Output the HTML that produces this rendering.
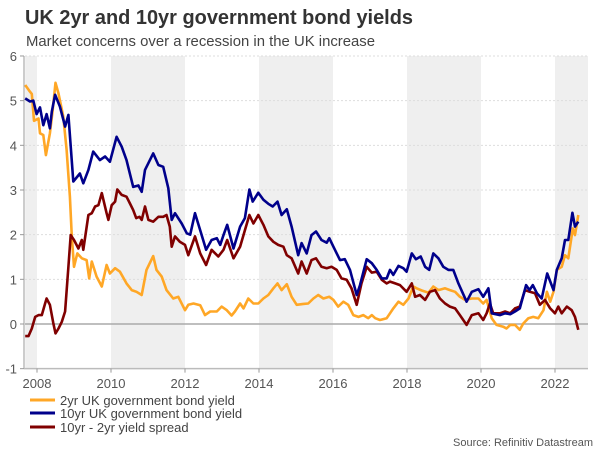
<!DOCTYPE html>
<html><head><meta charset="utf-8"><style>
html,body{margin:0;padding:0;background:#fff;}
svg{display:block;font-family:"Liberation Sans",Arial,sans-serif;}
</style></head><body>
<svg id="chart" width="600" height="450" viewBox="0 0 600 450">
<text x="25" y="24" font-size="20" font-weight="bold" fill="#333" textLength="388" lengthAdjust="spacingAndGlyphs">UK 2yr and 10yr government bond yields</text>
<text x="26" y="46" font-size="15" fill="#444" textLength="349" lengthAdjust="spacingAndGlyphs">Market concerns over a recession in the UK increase</text>
<g id="bands"></g><g id="grid"></g><g id="axes"></g><g id="series"></g>
<g>
<g><line x1="30" y1="400" x2="55" y2="400" stroke="#FFA726" stroke-width="3"/><text x="60" y="405" font-size="13" fill="#444">2yr UK government bond yield</text></g>
<g><line x1="30" y1="413" x2="55" y2="413" stroke="#00008B" stroke-width="3"/><text x="60" y="418" font-size="13" fill="#444">10yr UK government bond yield</text></g>
<g><line x1="30" y1="427" x2="55" y2="427" stroke="#800000" stroke-width="3"/><text x="60" y="432" font-size="13" fill="#444">10yr - 2yr yield spread</text></g>
</g>
<text x="593" y="446" font-size="11" fill="#555" text-anchor="end">Source: Refinitiv Datastream</text>
</svg>
<script>
const yTicks=[-1,0,1,2,3,4,5,6];
const xTickYears=[2008,2010,2012,2014,2016,2018,2020,2022];
const bandStarts=[2007.68,2010,2014,2018,2022];
const bandEnds=[2008,2012,2016,2020,2022.9];
const tenDates=[2007.68,2007.81,2007.90,2007.99,2008.08,2008.17,2008.26,2008.35,2008.40,2008.49,2008.62,2008.76,2008.85,2008.98,2009.16,2009.25,2009.39,2009.52,2009.70,2009.84,2009.97,2010.15,2010.29,2010.42,2010.60,2010.74,2010.83,2010.92,2011.14,2011.28,2011.41,2011.55,2011.64,2011.73,2011.91,2012.05,2012.14,2012.27,2012.41,2012.57,2012.72,2012.86,2012.95,2013.04,2013.14,2013.31,2013.49,2013.62,2013.74,2013.83,2013.98,2014.12,2014.25,2014.37,2014.50,2014.61,2014.75,2014.88,2015.06,2015.15,2015.29,2015.42,2015.54,2015.69,2015.83,2015.90,2016.01,2016.19,2016.32,2016.46,2016.64,2016.73,2016.91,2017.05,2017.18,2017.32,2017.45,2017.54,2017.63,2017.77,2017.90,2017.99,2018.13,2018.24,2018.37,2018.49,2018.60,2018.71,2018.85,2018.98,2019.12,2019.25,2019.39,2019.61,2019.75,2019.93,2020.06,2020.20,2020.29,2020.51,2020.65,2020.79,2020.92,2021.05,2021.22,2021.31,2021.40,2021.51,2021.64,2021.79,2021.96,2022.05,2022.18,2022.27,2022.36,2022.47,2022.54,2022.63];
const tenVals=[5.05,4.98,5.0,4.7,4.85,4.45,4.7,4.38,4.75,5.13,4.87,4.42,4.68,3.19,3.37,3.15,3.45,3.86,3.67,3.75,3.63,4.19,3.97,3.67,3.07,3.10,2.96,3.45,3.82,3.56,3.52,3.04,2.33,2.48,2.25,2.03,2.0,2.48,2.10,1.66,1.88,1.92,1.77,1.99,2.22,1.69,2.18,2.37,3.01,2.74,2.94,2.78,2.69,2.63,2.74,2.44,2.57,2.18,1.54,1.81,1.58,1.99,2.07,1.88,1.82,1.92,1.73,1.43,1.45,1.21,0.65,0.87,1.45,1.36,1.21,1.02,1.02,1.21,1.10,1.30,1.25,1.17,1.58,1.45,1.51,1.28,1.21,1.58,1.47,1.28,1.21,1.21,0.91,0.50,0.72,0.78,0.61,0.80,0.24,0.20,0.24,0.22,0.28,0.35,0.87,0.76,0.87,0.69,0.57,1.13,0.76,1.21,1.47,1.88,1.88,2.49,2.18,2.29];
const twoDates=[2007.68,2007.81,2007.86,2007.92,2008.04,2008.08,2008.17,2008.24,2008.35,2008.42,2008.50,2008.58,2008.71,2008.80,2008.89,2008.94,2009.00,2009.09,2009.21,2009.34,2009.41,2009.48,2009.61,2009.75,2009.88,2009.97,2010.11,2010.24,2010.42,2010.56,2010.69,2010.83,2010.96,2011.14,2011.23,2011.37,2011.50,2011.68,2011.82,2012.00,2012.09,2012.23,2012.41,2012.54,2012.68,2012.86,2012.99,2013.13,2013.26,2013.35,2013.49,2013.58,2013.71,2013.85,2013.98,2014.12,2014.25,2014.39,2014.50,2014.61,2014.75,2014.88,2015.02,2015.20,2015.33,2015.47,2015.60,2015.74,2015.90,2016.01,2016.14,2016.28,2016.41,2016.55,2016.69,2016.82,2016.95,2017.05,2017.14,2017.27,2017.45,2017.54,2017.63,2017.77,2017.90,2018.04,2018.17,2018.26,2018.40,2018.58,2018.71,2018.85,2019.03,2019.16,2019.30,2019.43,2019.57,2019.75,2019.93,2020.06,2020.15,2020.29,2020.42,2020.60,2020.69,2020.79,2020.92,2021.05,2021.14,2021.28,2021.41,2021.55,2021.69,2021.78,2021.87,2021.96,2022.05,2022.18,2022.27,2022.36,2022.48,2022.54,2022.63];
const twoVals=[5.35,5.20,5.15,4.55,4.60,4.27,4.23,3.78,4.27,4.75,5.40,5.16,4.64,3.90,2.85,1.96,1.28,1.58,1.47,1.43,1.02,1.40,1.06,0.84,1.32,1.13,1.25,1.17,0.91,0.76,0.72,0.65,1.21,1.52,1.21,1.06,0.76,0.57,0.61,0.31,0.43,0.46,0.42,0.20,0.28,0.28,0.39,0.31,0.19,0.28,0.46,0.35,0.57,0.46,0.46,0.57,0.65,0.80,0.91,0.76,0.89,0.61,0.43,0.45,0.46,0.57,0.65,0.57,0.61,0.54,0.39,0.50,0.43,0.20,0.16,0.20,0.13,0.20,0.13,0.09,0.13,0.24,0.35,0.50,0.43,0.57,0.84,0.80,0.75,0.70,0.84,0.76,0.80,0.76,0.72,0.61,0.54,0.57,0.57,0.46,0.54,0.13,-0.02,-0.06,-0.10,-0.02,-0.02,-0.13,0.01,0.13,0.16,0.13,0.31,0.72,0.50,0.72,1.21,1.28,1.54,1.47,2.14,1.99,2.44];
const spreadDates=[2007.68,2007.77,2007.86,2007.95,2008.04,2008.13,2008.22,2008.26,2008.35,2008.44,2008.50,2008.58,2008.67,2008.76,2008.85,2008.91,2009.00,2009.12,2009.21,2009.25,2009.39,2009.48,2009.57,2009.66,2009.75,2009.88,2009.93,2010.02,2010.11,2010.17,2010.29,2010.42,2010.51,2010.60,2010.68,2010.77,2010.83,2010.92,2011.01,2011.14,2011.28,2011.41,2011.50,2011.59,2011.64,2011.73,2011.86,2012.00,2012.09,2012.27,2012.41,2012.57,2012.72,2012.90,2013.04,2013.14,2013.31,2013.49,2013.62,2013.74,2013.85,2013.98,2014.12,2014.25,2014.39,2014.52,2014.66,2014.75,2014.88,2015.06,2015.15,2015.29,2015.42,2015.54,2015.69,2015.83,2015.96,2016.10,2016.23,2016.37,2016.50,2016.64,2016.77,2016.91,2017.05,2017.18,2017.32,2017.45,2017.54,2017.68,2017.81,2017.99,2018.13,2018.22,2018.35,2018.49,2018.62,2018.76,2018.89,2019.03,2019.16,2019.30,2019.43,2019.61,2019.75,2019.93,2020.06,2020.15,2020.24,2020.33,2020.51,2020.65,2020.79,2020.92,2021.05,2021.19,2021.32,2021.46,2021.59,2021.73,2021.87,2022.00,2022.09,2022.18,2022.32,2022.45,2022.54,2022.63];
const spreadVals=[-0.27,-0.27,-0.10,0.16,0.20,0.20,0.46,0.57,0.43,0.02,-0.21,-0.10,0.05,0.28,1.28,1.99,1.88,1.69,1.88,1.66,2.44,2.48,2.63,2.66,2.93,2.48,2.33,2.66,2.74,3.01,2.89,2.85,2.70,2.55,2.37,2.40,2.33,2.63,2.33,2.29,2.40,2.40,2.44,2.18,1.73,1.96,1.84,1.77,1.54,1.96,1.58,1.32,1.66,1.51,1.66,1.88,1.47,1.73,2.10,2.44,2.25,2.44,2.22,1.96,1.84,1.77,1.73,1.54,1.47,1.13,1.40,1.13,1.43,1.47,1.28,1.25,1.28,1.21,1.02,0.99,0.80,0.43,0.91,1.28,1.15,1.17,0.99,0.91,0.95,0.91,0.87,0.72,0.91,0.61,0.65,0.54,0.72,0.76,0.57,0.46,0.39,0.35,0.20,-0.02,0.20,0.24,0.09,0.24,0.46,0.24,0.24,0.28,0.24,0.35,0.39,0.76,0.72,0.69,0.43,0.54,0.35,0.24,0.39,0.24,0.39,0.31,0.16,-0.13];

const NS="http://www.w3.org/2000/svg";
const plotL=25, plotR=588, plotT=56;
function xScale(t){return 37+(t-2008)*37;}
function yScale(v){return 324-v*44.67;}
function mk(tag,attrs,parent){const e=document.createElementNS(NS,tag);for(const k in attrs)e.setAttribute(k,attrs[k]);parent.appendChild(e);return e;}
const bands=document.getElementById('bands'),grid=document.getElementById('grid'),axes=document.getElementById('axes'),series=document.getElementById('series');
bandStarts.forEach((s,i)=>{
  const x0=Math.max(plotL,xScale(s)),x1=Math.min(plotR,xScale(bandEnds[i]));
  const r=mk('rect',{x:x0,y:plotT,width:x1-x0,height:yScale(-1)-plotT,fill:'#efefef'},bands);
  
  
});
yTicks.forEach(v=>{
  const y=yScale(v);
  if(v!==0&&v!==-1){const g=mk('line',{x1:plotL,x2:plotR,y1:y,y2:y,stroke:'#dddddd','stroke-width':1,'stroke-dasharray':'2,2'},grid);
    
    }
  mk('line',{x1:20,x2:24,y1:y,y2:y,stroke:'#999','stroke-width':1},axes);
  const t=mk('text',{x:17,y:y+5,'font-size':13,fill:'#555','text-anchor':'end'},axes);
  t.textContent=String(v);
  
  
});
const zl=mk('line',{x1:plotL,x2:plotR,y1:yScale(0),y2:yScale(0),stroke:'#aaaaaa','stroke-width':1.5},axes);


const ya=mk('line',{x1:24,x2:24,y1:plotT,y2:yScale(-1),stroke:'#999','stroke-width':1},axes);


const xa=mk('line',{x1:24,x2:plotR,y1:yScale(-1),y2:yScale(-1),stroke:'#bbb','stroke-width':1.5},axes);


xTickYears.forEach(yr=>{
  const x=xScale(yr);
  mk('line',{x1:x,x2:x,y1:yScale(-1),y2:yScale(-1)+4,stroke:'#999','stroke-width':1},axes);
  const t=mk('text',{x:x,y:388,'font-size':13,fill:'#555','text-anchor':'middle'},axes);
  t.textContent=String(yr);
  
  
});
function drawLine(dates,vals,color,name){
  const d=dates.map((t,i)=>(i?'L':'M')+xScale(t).toFixed(1)+','+yScale(vals[i]).toFixed(1)).join(' ');
  const p=mk('path',{d:d,fill:'none',stroke:color,'stroke-width':2.6,'stroke-linejoin':'round'},series);
  
  
}
drawLine(twoDates,twoVals,'#FFA726','line-2yr-yield');
drawLine(spreadDates,spreadVals,'#800000','line-yield-spread');
drawLine(tenDates,tenVals,'#00008B','line-10yr-yield');
</script>
</body></html>
